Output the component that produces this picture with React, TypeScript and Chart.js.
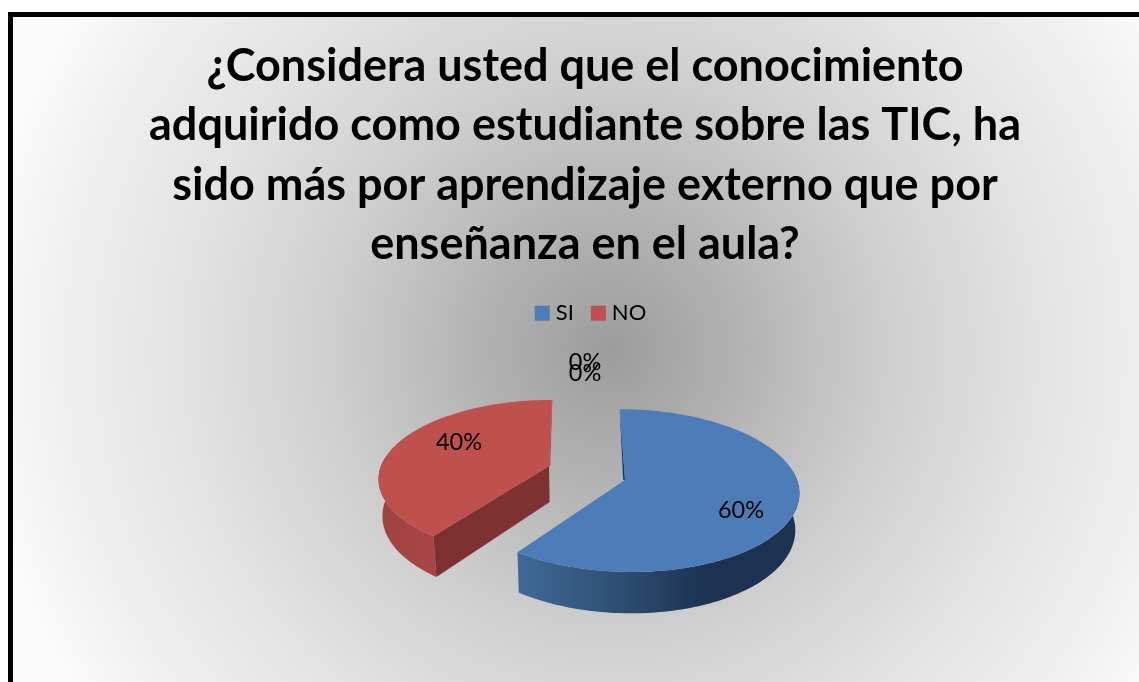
import React, { useEffect, useRef } from "react";
import { Chart, registerables } from "chart.js";

Chart.register(...registerables);

const categories = ["SI", "NO", "", ""];
const seriesValues = [60, 40, 0, 0];
const titleLines = [
  "¿Considera usted que el conocimiento",
  "adquirido como estudiante sobre las TIC, ha",
  "sido más por aprendizaje externo que por",
  "enseñanza en el aula?",
];
const sliceColors = ["#4c7db9", "#c0504d", "#9bbb59", "#8064a2"];

// Perspective fit of each exploded wedge: centre, radii, skew and foreshortening.
const wedgeViews = [
  { cx: 625, cy: 480, a: 172, b: 80, s: 6, p: 0.13 },
  { cx: 549, cy: 466, a: 168, b: 76, s: -3.4, p: 0.15 },
];
const labelAnchors = [
  [741, 510],
  [459, 442],
  [585, 362],
  [585, 373],
];
const DEPTH = 36;
const VANISH_X = 585;
const WALL_SCALE = 0.981;

type Pt = [number, number];
const topPt = (v: any, r: number, ang: number): Pt => {
  const U = r * Math.cos(ang);
  const V = r * Math.sin(ang);
  const w = 1 - v.p * V;
  return [v.cx + (v.a * U + v.s * V) / w, v.cy + (v.b * V) / w];
};
const lowPt = (v: any, r: number, ang: number): Pt => {
  const [x, y] = topPt(v, r, ang);
  const w = 1 - v.p * r * Math.sin(ang);
  return [VANISH_X + (x - VANISH_X) * WALL_SCALE, y + DEPTH / w];
};
const fillPoly = (ctx: CanvasRenderingContext2D, pts: Pt[], fill: any) => {
  ctx.beginPath();
  pts.forEach((p, i) => (i ? ctx.lineTo(p[0], p[1]) : ctx.moveTo(p[0], p[1])));
  ctx.closePath();
  ctx.fillStyle = fill;
  ctx.fill();
};
const angles = (s: number, e: number): number[] => {
  const out: number[] = [];
  const n = 160;
  for (let i = 0; i <= n; i++) out.push(s + ((e - s) * i) / n);
  return out;
};

const backdropPlugin = {
  id: "backdrop",
  beforeDraw(chart: any) {
    const { ctx, width, height } = chart;
    ctx.save();
    const g = ctx.createRadialGradient(610, 350, 0, 610, 350, 640);
    g.addColorStop(0, "#9c9c9c");
    g.addColorStop(130 / 640, "#b2b2b2");
    g.addColorStop(270 / 640, "#cdcdcd");
    g.addColorStop(420 / 640, "#e2e2e2");
    g.addColorStop(530 / 640, "#ededed");
    g.addColorStop(1, "#fbfbfb");
    ctx.fillStyle = g;
    ctx.fillRect(0, 0, width, height);
    ctx.fillStyle = "#ffffff";
    ctx.fillRect(0, 0, width, 12);
    ctx.fillRect(0, 0, 8, height);
    ctx.fillStyle = "#000000";
    ctx.fillRect(8, 12, width - 8, 5);
    ctx.fillRect(8, 12, 5, height - 12);
    ctx.restore();
  },
  afterLayout(chart: any) {
    // The legend sits a little to the right of the title's centre line.
    chart.legend.left += 16;
  },
};

const pie3dPlugin = {
  id: "pie3d",
  beforeDatasetDraw(chart: any) {
    const { ctx } = chart;
    const arcs = chart.getDatasetMeta(0).data;
    ctx.save();
    const paint = (i: number) => {
      const el = arcs[i];
      const v = wedgeViews[i];
      const all = angles(el.startAngle, el.endAngle);
      const front = all.filter((a) => Math.sin(a) > -0.12);
      const top = all.map((a) => topPt(v, 1, a));
      const wallTop = front.map((a) => topPt(v, 1, a));
      const wallLow = front.map((a) => lowPt(v, 1, a));
      const apexTop = topPt(v, 0, 0);
      const apexLow = lowPt(v, 0, 0);
      const wall = [...wallTop, ...wallLow.slice().reverse()];
      if (i === 0) {
        fillPoly(ctx, [top[0], apexTop, [apexTop[0] - 1.8, apexTop[1]]], "#1d3557");
        const g = ctx.createLinearGradient(519, 0, 797, 0);
        g.addColorStop(0, "#3f6996");
        g.addColorStop(0.3, "#315379");
        g.addColorStop(0.68, "#1c3250");
        g.addColorStop(1, "#1c3350");
        fillPoly(ctx, wall, g);
      } else {
        const g = ctx.createLinearGradient(379, 0, 435, 0);
        g.addColorStop(0, "#9f4240");
        g.addColorStop(1, "#a84644");
        fillPoly(ctx, wall, g);
        fillPoly(ctx, [top[0], apexTop, apexLow, lowPt(v, 1, all[0])], "#7d3231");
        const last = top[top.length - 1];
        fillPoly(ctx, [last, apexTop, [apexTop[0] + 1.2, apexTop[1]], [last[0] + 0.4, last[1]]], "#a84644");
      }
      fillPoly(ctx, [apexTop, ...top], el.options.backgroundColor);
    };
    paint(1);
    paint(0);
    ctx.restore();
    return false;
  },
  afterDatasetsDraw(chart: any) {
    const { ctx } = chart;
    const data = chart.data.datasets[0].data;
    ctx.save();
    ctx.fillStyle = "#000000";
    ctx.font = "23.5px Lato";
    ctx.textAlign = "center";
    ctx.textBaseline = "middle";
    data.forEach((d: number, i: number) => {
      ctx.fillText(`${d}%`, labelAnchors[i][0], labelAnchors[i][1]);
    });
    ctx.restore();
  },
};

export default function App() {
  const ref = useRef<HTMLCanvasElement>(null);
  useEffect(() => {
    document.body.style.margin = "0";
    const chart = new Chart(ref.current!, {
      type: "pie",
      data: {
        labels: categories,
        datasets: [{ data: seriesValues, backgroundColor: sliceColors, borderWidth: 0 }],
      },
      options: {
        responsive: false,
        animation: false,
        layout: { padding: { left: 31, top: 0, right: 0, bottom: 0 } },
        plugins: {
          title: {
            display: true,
            text: titleLines,
            color: "#000000",
            font: { family: "Lato", weight: "bold", size: 45, lineHeight: 1.318 },
            padding: { top: 37, bottom: 6 },
          },
          legend: {
            display: true,
            position: "top",
            labels: {
              // A small box with a thick same-colour stroke: a 15px square closer to its text.
              boxWidth: 5,
              boxHeight: 5,
              color: "#000000",
              font: { family: "Lato", size: 22 },
              padding: 22,
              generateLabels: (c: any) =>
                (Chart as any).overrides.pie.plugins.legend.labels
                  .generateLabels(c)
                  .map((it: any) => ({ ...it, lineWidth: 10, strokeStyle: it.fillStyle })),
              filter: (item: any) => item.text !== "",
            },
          },
          tooltip: { enabled: false },
        },
      },
      plugins: [backdropPlugin, pie3dPlugin],
    } as any);
    return () => chart.destroy();
  }, []);
  return (
    <div style={{ width: 1139, height: 682 }}>
      <canvas ref={ref} width={1139} height={682} style={{ display: "block" }} />
    </div>
  );
}
